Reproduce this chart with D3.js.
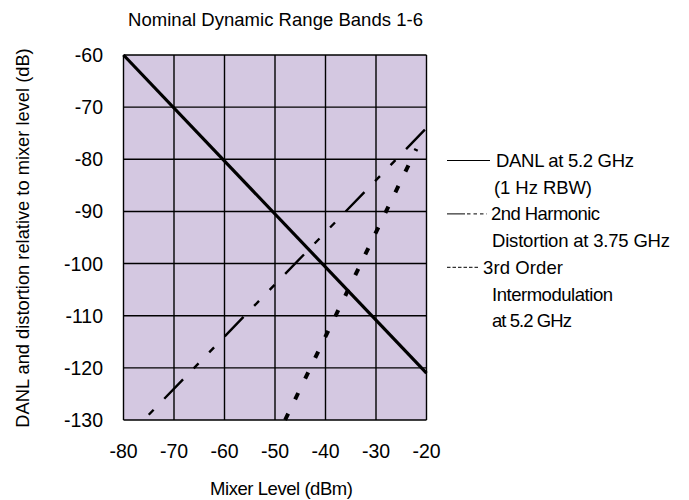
<!DOCTYPE html>
<html>
<head>
<meta charset="utf-8">
<script src="https://cdn.jsdelivr.net/npm/d3@7"></script>
<style>
  body { margin: 0; background: #fff; }
  svg { display: block; }
</style>
</head>
<body>
<svg id="chart" width="689" height="500"></svg>
<script>
// ticks
const xTicks = [-80, -70, -60, -50, -40, -30, -20];
const yTicks = [-60, -70, -80, -90, -100, -110, -120, -130];

// series (dBm, dB)
const danlX = [-80, -20];
const danlY = [-60, -121];
const harmX = [-75, -20];
const harmY = [-129, -74];
const imX = [-48, -22];
const imY = [-130, -78];

const legendRows = [
  "DANL at 5.2 GHz",
  "(1 Hz RBW)",
  "2nd Harmonic",
  "Distortion at 3.75 GHz",
  "3rd Order",
  "Intermodulation",
  "at 5.2 GHz"
];

const svg = d3.select("#chart");
const narrow = "'Liberation Sans Narrow', 'Liberation Sans', sans-serif";
const arial = "'Liberation Sans', Arial, sans-serif";

const x = d3.scaleLinear().domain([-80, -20]).range([123.5, 426.5]);
const y = d3.scaleLinear().domain([-130, -60]).range([420, 55]);

// plot background
svg.append("rect")
  .attr("x", x(-80)).attr("y", y(-60))
  .attr("width", x(-20) - x(-80)).attr("height", y(-130) - y(-60))
  .attr("fill", "#d4c8e1");

// grid
svg.append("g")
  .selectAll("line")
  .data(xTicks)
  .join("line")
    .attr("x1", d => x(d)).attr("x2", d => x(d))
    .attr("y1", y(-60)).attr("y2", y(-130))
    .attr("stroke", "#000").attr("stroke-width", 1.4);

svg.append("g")
  .selectAll("line")
  .data(yTicks)
  .join("line")
    .attr("x1", x(-80)).attr("x2", x(-20))
    .attr("y1", d => y(d)).attr("y2", d => y(d))
    .attr("stroke", "#000").attr("stroke-width", 1.4);

// tick labels
svg.append("g")
  .selectAll("text")
  .data(yTicks)
  .join("text")
    .attr("x", 103)
    .attr("y", d => y(d))
    .attr("text-anchor", "end")
    .attr("dominant-baseline", "central")
    .style("font-family", arial)
    .style("font-size", "19.5px")
    .text(d => d);

svg.append("g")
  .selectAll("text")
  .data(xTicks)
  .join("text")
    .attr("x", d => x(d))
    .attr("y", 451)
    .attr("text-anchor", "middle")
    .attr("dominant-baseline", "central")
    .style("font-family", arial)
    .style("font-size", "19.5px")
    .text(d => d);

const line = d3.line().x(d => x(d[0])).y(d => y(d[1]));

// DANL
svg.append("path")
  .datum(d3.zip(danlX, danlY))
  .attr("d", line)
  .attr("fill", "none")
  .attr("stroke", "#000")
  .attr("stroke-width", 3.2);

// 2nd harmonic: short / long / short
svg.append("path")
  .datum(d3.zip(harmX, harmY))
  .attr("d", line)
  .attr("fill", "none")
  .attr("stroke", "#000")
  .attr("stroke-width", 2.4)
  .style("stroke-dasharray", "7,15.3,27,15.3,7,15.3");

// 3rd order intermod: heavy dots
svg.append("path")
  .datum(d3.zip(imX, imY))
  .attr("d", line)
  .attr("fill", "none")
  .attr("stroke", "#000")
  .attr("stroke-width", 4)
  .style("stroke-dasharray", "7,16");

// title and axis titles
svg.append("text")
  .attr("x", 128).attr("y", 19)
  .attr("dominant-baseline", "central")
  .attr("textLength", 295)
  .style("font-family", narrow)
  .style("font-size", "18.5px")
  .text("Nominal Dynamic Range Bands 1-6");

svg.append("text")
  .attr("x", 210).attr("y", 488)
  .attr("dominant-baseline", "central")
  .attr("textLength", 143)
  .style("font-family", narrow)
  .style("font-size", "18.5px")
  .text("Mixer Level (dBm)");

svg.append("text")
  .attr("transform", "translate(22,238) rotate(-90)")
  .attr("text-anchor", "middle")
  .attr("dominant-baseline", "central")
  .style("font-family", arial)
  .style("font-size", "18.3px")
  .text("DANL and distortion relative to mixer level (dB)");

// legend
const legX = [496, 494, 491, 492, 483, 492, 492];
const legW = [138, 98, 109, 178, 80, 121, 80];
const legY = d3.range(legendRows.length).map(i => 160.5 + i * 26.7);
svg.append("g")
  .selectAll("text")
  .data(legendRows)
  .join("text")
    .attr("x", (d, i) => legX[i])
    .attr("y", (d, i) => legY[i])
    .attr("textLength", (d, i) => legW[i])
    .attr("dominant-baseline", "central")
    .style("font-family", narrow)
    .style("font-size", "18.5px")
    .text(d => d);

const sw = svg.append("g").attr("stroke", "#000").attr("stroke-width", 1);
sw.append("line").attr("x1", 447).attr("x2", 490).attr("y1", legY[0]).attr("y2", legY[0]);
sw.append("line").attr("x1", 447).attr("x2", 465).attr("y1", legY[2]).attr("y2", legY[2]);
sw.append("line").attr("x1", 467).attr("x2", 487).attr("y1", legY[2]).attr("y2", legY[2])
  .style("stroke-dasharray", "3.5,3");
sw.append("line").attr("x1", 447).attr("x2", 479).attr("y1", legY[4]).attr("y2", legY[4])
  .style("stroke-dasharray", "3.5,2");
</script>
</body>
</html>
